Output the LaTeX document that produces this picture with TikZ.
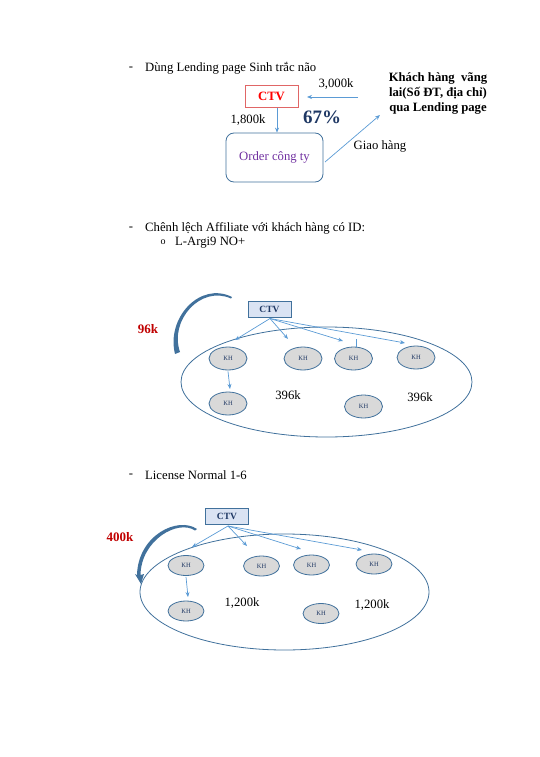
\documentclass[tikz,border=0pt]{standalone}
\usepackage{fontspec}
\setmainfont{Liberation Serif}
\usetikzlibrary{arrows.meta}
\definecolor{lblue}{HTML}{5B9BD5}
\definecolor{sblue}{HTML}{41719C}
\definecolor{dblue}{HTML}{1F3864}
\definecolor{ctvred}{HTML}{E06666}
\definecolor{dred}{HTML}{C00000}
\definecolor{purp}{HTML}{7030A0}
\definecolor{boxfill}{HTML}{DAE3F3}
\definecolor{khfill}{HTML}{D9D9D9}
\tikzset{
  body/.style={font=\fontsize{12.7}{15}\selectfont, inner sep=0pt},
  arr/.style={draw=lblue, line width=0.7pt, -{Stealth[length=5pt,width=4pt]}},
  ctvbox/.style={draw=sblue, fill=boxfill, line width=0.8pt, minimum width=43pt, minimum height=16pt, inner sep=0pt, font=\bfseries\fontsize{9.5}{10}\selectfont, text=dblue},
  khnode/.style={draw=sblue, fill=khfill, line width=0.8pt, ellipse, minimum width=38pt, minimum height=23pt, inner sep=0pt, font=\fontsize{6.5}{7}\selectfont, text=dblue},
  khnodeb/.style={khnode, minimum width=36pt, minimum height=20pt},
  bigell/.style={draw=sblue, line width=0.8pt},
  redlbl/.style={font=\bfseries\fontsize{13}{15}\selectfont, text=dred, inner sep=0pt},
  curv/.style={fill=sblue},
}
\usetikzlibrary{shapes.geometric}
\begin{document}
\begin{tikzpicture}[x=1pt,y=-1pt]
\useasboundingbox (0,0) rectangle (539,757);
% ---------- Section 1 ----------
\node[body] (d1) at (131,69) {-};
\node[body, anchor=west] (t1) at (145,68) {Dùng Lending page Sinh trắc não};
\node[draw=ctvred, line width=1pt, minimum width=53pt, minimum height=22pt, inner sep=0pt, text=red, font=\bfseries\fontsize{12.7}{14}\selectfont] (ctv0) at (271.5,96.5) {CTV};
\node[body] (k3000) at (336,84) {3,000k};
\node[font=\bfseries\fontsize{12.7}{15}\selectfont, align=center, inner sep=0pt] (khach) at (438,93) {Khách hàng\ \ vãng\\lai(Số ĐT, địa chỉ)\\qua Lending page};
\node[body] (k1800) at (248,120) {1,800k};
\node[font=\bfseries\fontsize{19}{21}\selectfont, text=dblue, inner sep=0pt] (pct) at (322,117) {67\%};
\node[draw=sblue, line width=0.8pt, rounded corners=8pt, minimum width=97pt, minimum height=49pt, inner sep=0pt, text=purp, font=\fontsize{12.7}{15}\selectfont] (order) at (274.5,157.5) {Order công ty};
\node[body] (giao) at (380,146) {Giao hàng};
\coordinate (a0s) at (358,97);
\coordinate (a0e) at (307,97);
\coordinate (g0s) at (325,162);
\coordinate (g0e) at (380,115);
\draw[arr] (a0s) -- (a0e);
\draw[arr] (ctv0.south -| 277,0) -- (order.north -| 277,0);
\draw[arr] (g0s) -- (g0e);
% ---------- Section 2 ----------
\node[body] (d2) at (131,229) {-};
\node[body, anchor=west] (t2) at (145,228) {Chênh lệch Affiliate với khách hàng có ID:};
\node[font=\fontsize{10}{11}\selectfont, inner sep=0pt] (o2) at (163,242) {o};
\node[body, anchor=west] (t3) at (175,243) {L-Argi9 NO+};
% diagram 2
\draw[bigell] (326.5,382) ellipse [x radius=145.5, y radius=55];
\node[ctvbox] (ctv1) at (269.5,309) {CTV};
\node[khnode] (kh11) at (228,358.5) {KH};
\node[khnode] (kh12) at (303,358.5) {KH};
\node[khnode] (kh13) at (353.5,358.5) {KH};
\node[khnode] (kh14) at (416,357.5) {KH};
\node[khnode] (kh15) at (228,403.5) {KH};
\node[khnode] (kh16) at (363.5,406.5) {KH};
\coordinate (p11) at (235,340);
\coordinate (p12) at (288,339);
\coordinate (p13) at (343,341);
\coordinate (p14) at (405,343);
\coordinate (c1) at (270,318.5);
\draw[arr] (c1) -- (p11);
\draw[arr] (c1) -- (p12);
\draw[arr] (c1) -- (p13);
\draw[arr] (c1) -- (p14);
\coordinate (tk) at (356,339);
\draw[draw=lblue, line width=0.7pt] (kh13.north -| tk) -- (tk);
\draw[arr] (kh11.south) ++(0,1) coordinate (q1s) -- (230,389) coordinate (q1e);
\node[body] (v1) at (288,395) {396k};
\node[body] (v2) at (420,397) {396k};
\node[redlbl] (r1) at (148,329) {96k};
\fill[curv] (232,297) .. controls (200,281) and (166,318) .. (175,354)
  -- (180,352) .. controls (169,320) and (201,285) .. (231,298.5) -- cycle;
% ---------- Section 3 ----------
\node[body] (d3) at (131,476) {-};
\node[body, anchor=west] (t4) at (145,475) {License Normal 1-6};
\draw[bigell] (284.5,592) ellipse [x radius=144.5, y radius=58];
\node[ctvbox] (ctv2) at (227,516.5) {CTV};
\node[khnodeb] (kh21) at (186,565.5) {KH};
\node[khnodeb] (kh22) at (261.5,566) {KH};
\node[khnodeb] (kh23) at (311.5,565) {KH};
\node[khnodeb] (kh24) at (374,564) {KH};
\node[khnodeb] (kh25) at (186,611) {KH};
\node[khnodeb] (kh26) at (321,613.5) {KH};
\coordinate (c2) at (228,526);
\coordinate (p21) at (192,547);
\coordinate (p22) at (247,546);
\coordinate (p23) at (301,549);
\coordinate (p24) at (362,550);
\draw[arr] (c2) -- (p21);
\draw[arr] (c2) -- (p22);
\draw[arr] (c2) -- (p23);
\draw[arr] (c2) -- (p24);
\draw[arr] (kh21.south) ++(0,1) coordinate (q2s) -- (188,597) coordinate (q2e);
\node[body] (w1) at (242,603) {1,200k};
\node[body] (w2) at (372,605) {1,200k};
\node[redlbl] (r2) at (120,537) {400k};
\fill[curv] (197,529) .. controls (178,516) and (138,535) .. (137,575)
  -- (135,574) -- (141,584) -- (144,574) -- (140.5,575)
  .. controls (141,540) and (178,519) .. (195,530.5) -- cycle;
\end{tikzpicture}
\end{document}
